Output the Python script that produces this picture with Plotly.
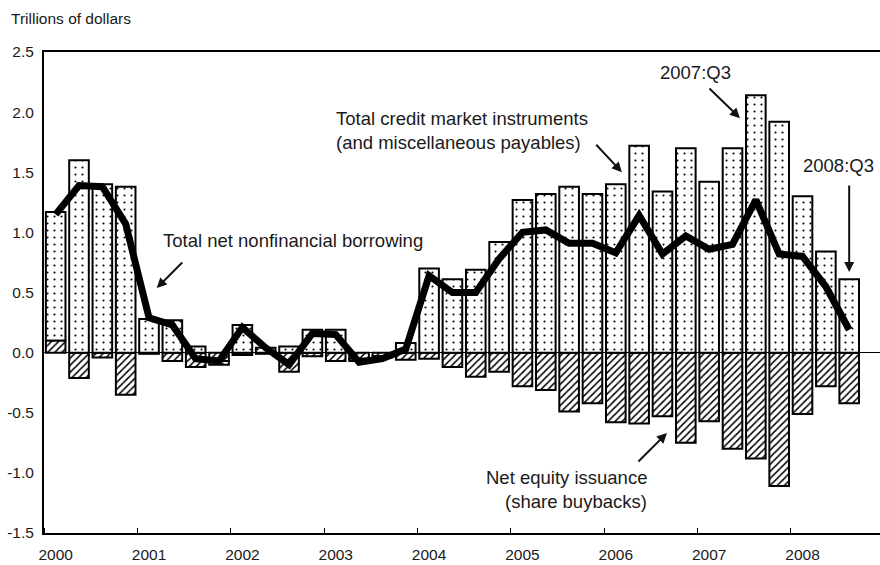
import plotly.graph_objects as go

quarters = [f"{y}:Q{q}" for y in range(2000, 2009) for q in range(1, 5)][:35]
credit = [1.07, 1.60, 1.40, 1.38, 0.28, 0.27, 0.05, -0.03,
          0.23, 0.04, 0.05, 0.19, 0.19, -0.02, -0.01, 0.08,
          0.70, 0.61, 0.69, 0.92, 1.27, 1.32, 1.38, 1.32,
          1.40, 1.72, 1.34, 1.70, 1.42, 1.70, 2.14, 1.92,
          1.30, 0.84, 0.61]
equity = [0.10, -0.21, -0.04, -0.35, -0.01, -0.07, -0.12, -0.07,
          -0.02, -0.01, -0.16, -0.03, -0.07, -0.05, -0.03, -0.06,
          -0.05, -0.12, -0.20, -0.16, -0.28, -0.31, -0.49, -0.42,
          -0.58, -0.59, -0.53, -0.75, -0.57, -0.80, -0.88, -1.11,
          -0.51, -0.28, -0.42]
borrowing = [1.15, 1.39, 1.38, 1.07, 0.29, 0.23, -0.05, -0.07,
             0.21, 0.04, -0.10, 0.16, 0.15, -0.08, -0.05, 0.03,
             0.64, 0.50, 0.50, 0.78, 1.00, 1.02, 0.91, 0.91,
             0.83, 1.14, 0.82, 0.97, 0.86, 0.90, 1.27, 0.82,
             0.80, 0.55, 0.19]
year_labels = [str(y) for y in range(2000, 2009)]
y_tick_values = [-1.5, -1.0, -0.5, 0.0, 0.5, 1.0, 1.5, 2.0, 2.5]
y_tick_labels = ["-1.5", "-1.0", "-0.5", "0.0", "0.5", "1.0", "1.5", "2.0", "2.5"]

idx = list(range(len(quarters)))
year_pos = idx[::4]

FONT = "Liberation Sans, Arial, sans-serif"
TXT = "#1a1a1a"

fig = go.Figure()
fig.add_trace(go.Bar(
    x=idx, y=equity, name="Net equity issuance", width=0.84,
    marker=dict(color="white", line=dict(color="black", width=2),
                pattern=dict(shape="/", size=5, solidity=0.3,
                             fgcolor="black", bgcolor="white", fillmode="replace")),
    hovertext=quarters))
fig.add_trace(go.Bar(
    x=idx, y=credit, name="Total credit market instruments", width=0.84,
    marker=dict(color="white", line=dict(color="black", width=2),
                pattern=dict(shape=".", size=7, solidity=0.07,
                             fgcolor="black", bgcolor="white", fillmode="replace")),
    hovertext=quarters))
fig.add_trace(go.Scatter(
    x=idx, y=borrowing, mode="lines", name="Total net nonfinancial borrowing",
    line=dict(color="black", width=7), hovertext=quarters))

def P(px, py):
    return (px - 44) / 836, (533 - py) / 481

annots = []
def text(s, px, py, anchor="left", size=18.5):
    x, y = P(px, py)
    annots.append(dict(text=s, x=x, y=y, xref="paper", yref="paper",
                       xanchor=anchor, yanchor="middle", showarrow=False,
                       font=dict(family=FONT, size=size, color=TXT)))

text("Total credit market instruments", 334, 118)
text("(and miscellaneous payables)", 334, 143)
text("2007:Q3", 695, 72, "center")
text("2008:Q3", 838, 165, "center")
text("Total net nonfinancial borrowing", 161, 240)
text("Net equity issuance", 649, 477, "right")
text("(share buybacks)", 649, 501, "right")
text("Trillions of dollars", 9, 18, "left", 15.5)

def arrow(xd, yd, ax, ay):
    annots.append(dict(text="", x=xd, y=yd, xref="x", yref="y", ax=ax, ay=ay,
                       showarrow=True, arrowhead=2, arrowsize=1, arrowwidth=2,
                       arrowcolor="#111"))

arrow(24.26, 1.50, -27, -29)
arrow(29.32, 1.95, -32, -31)
arrow(34.0, 0.67, 0, -88)
arrow(4.33, 0.537, 27, -27)
arrow(26.19, -0.669, -30, 30)

fig.update_layout(
    width=880, height=565,
    margin=dict(l=44, r=0, t=52, b=32),
    paper_bgcolor="white", plot_bgcolor="white",
    barmode="relative", showlegend=False,
    font=dict(family=FONT, size=15.5, color=TXT),
    annotations=annots,
)
fig.update_xaxes(
    range=[-0.5, 35.32], tickmode="array", tickvals=year_pos, ticktext=year_labels,
    ticks="", showline=True, linecolor="black", linewidth=2, mirror=True,
    showgrid=False, zeroline=False, ticklabelstandoff=6,
    tickfont=dict(family=FONT, size=15.5, color=TXT),
    minor=dict(tick0=-0.5, dtick=4, ticks="inside", ticklen=5, tickcolor="black", tickwidth=1),
)
fig.update_yaxes(
    range=[-1.5, 2.5], tickmode="array", tickvals=y_tick_values, ticktext=y_tick_labels,
    showline=True, linecolor="black", linewidth=2, mirror=False,
    showgrid=False, zeroline=True, zerolinecolor="black", zerolinewidth=1,
    ticks="", ticklabelstandoff=5,
    tickfont=dict(family=FONT, size=15.5, color=TXT),
)

fig.write_html("out.html", config={"displayModeBar": False},
               post_script="document.body.style.margin='0';document.body.style.overflow='hidden';")
